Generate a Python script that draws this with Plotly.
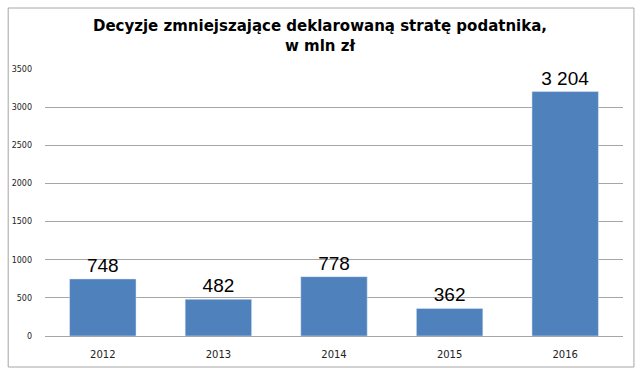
import plotly.graph_objects as go

years = ["2012", "2013", "2014", "2015", "2016"]
values = [748, 482, 778, 362, 3204]
labels = ["748", "482", "778", "362", "3 204"]
ytick_vals = [0, 500, 1000, 1500, 2000, 2500, 3000, 3500]

L, R, T, B = 42, 17, 69, 38
W, H = 640, 374
pw, ph = W - L - R, H - T - B

fig = go.Figure(go.Bar(
    x=years, y=values, text=labels, textposition="outside",
    textfont=dict(size=19, color="#000000", family="Liberation Sans"),
    marker=dict(color="#4f81bd"), cliponaxis=False,
))

fig.update_layout(
    width=W, height=H,
    margin=dict(l=L, r=R, t=T, b=B),
    paper_bgcolor="white", plot_bgcolor="white",
    bargap=0.425,
    showlegend=False,
    title=dict(
        text="<b>Decyzje zmniejszające deklarowaną stratę podatnika,<br>w mln zł</b>",
        x=0.5, xanchor="center", y=1 - 31 / H, yanchor="top",
        font=dict(size=15, family="DejaVu Sans", color="#000000"),
    ),
    xaxis=dict(
        showgrid=False, showline=True, linecolor="#a6a6a6", linewidth=1,
        tickfont=dict(size=10, family="DejaVu Sans", color="#222222"),
        ticks="", ticklabelstandoff=9,
    ),
    yaxis=dict(
        range=[0, 3500], tickvals=ytick_vals, showgrid=True,
        gridcolor="#a6a6a6", gridwidth=1, zeroline=False, showline=False,
        tickfont=dict(size=8, family="DejaVu Sans", color="#222222"),
        ticklabelstandoff=12,
    ),
    shapes=[dict(
        type="rect", xref="paper", yref="paper",
        x0=(5 - L) / pw, x1=(634 - L) / pw,
        y0=-(367 - (H - B)) / ph, y1=((H - B) - 8) / ph,
        line=dict(color="#a6a6a6", width=1), fillcolor="rgba(0,0,0,0)",
        layer="below",
    )],
)

fig.write_html("out.html", config={"displayModeBar": False},
               post_script="document.body.style.margin='0';")
